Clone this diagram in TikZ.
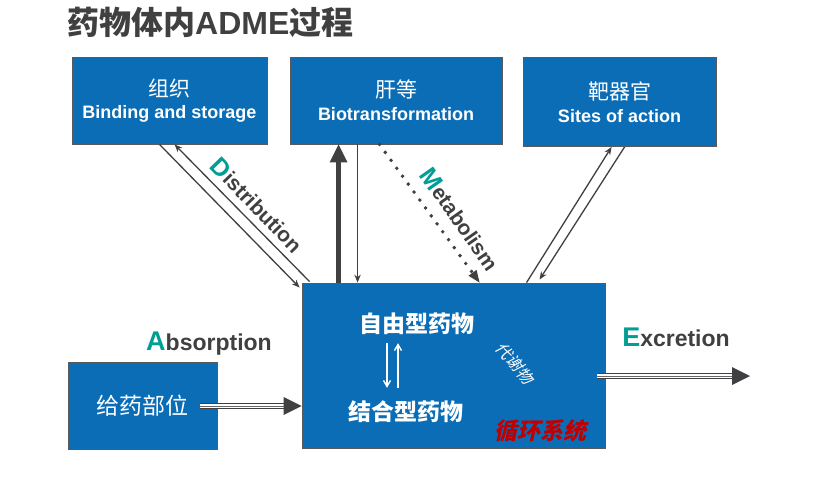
\documentclass[tikz,border=0pt]{standalone}
\usepackage{fontspec}
\setmainfont{Liberation Sans}
\newfontfamily\cjk{Noto Sans CJK SC}
\newfontfamily\cjkit[FakeSlant=0.22]{Noto Sans CJK SC}
\usetikzlibrary{arrows.meta,calc}
\definecolor{boxblue}{RGB}{10,109,182}
\definecolor{boxline}{RGB}{90,90,90}
\definecolor{arrgray}{RGB}{64,64,66}
\definecolor{titlegray}{RGB}{64,64,64}
\definecolor{tealc}{RGB}{0,158,148}
\definecolor{redc}{RGB}{192,0,0}
\tikzset{
  box/.style={draw=boxline, fill=boxblue, line width=0.9pt, inner sep=0pt, text=white, align=center},
  thinarr/.style={draw=arrgray, line width=1.3pt, -{Stealth[length=8pt,width=6.5pt,line width=0pt]}},
  thickarr/.style={draw=arrgray, line width=5pt, -{Triangle[length=18pt,width=18pt,line width=0pt]}},
  dotarr/.style={draw=arrgray, line width=3.9pt, line cap=round, dash pattern=on 0pt off 9.8pt, -{Triangle[length=12pt,width=10pt,line width=0pt]}},
  tripleline/.style={preaction={draw=arrgray, line width=5.5pt}, draw=white, line width=3.3pt, postaction={draw=arrgray!80, line width=1pt}},
  bighead/.style={draw=arrgray, line width=0.5pt, -{Triangle[length=18pt,width=18pt,line width=0pt]}},
  whitearr/.style={draw=white, line width=1.4pt, -{Straight Barb[length=6pt,width=7pt]}},
  lbl/.style={text=arrgray, font=\bfseries\fontsize{21}{24}\selectfont, inner sep=0pt},
  hlbl/.style={text=arrgray, font=\bfseries\fontsize{23}{26}\selectfont, inner sep=0pt},
  incjk/.style={text=white, inner sep=0pt, font=\cjk\bfseries\fontsize{23}{26}\selectfont}
}
\begin{document}
\begin{tikzpicture}[x=1pt,y=-1pt]
\useasboundingbox[fill=white] (0,0) rectangle (840,477);

\node[anchor=west, text=titlegray, inner sep=0pt, font=\cjk\bfseries\fontsize{32}{36}\selectfont] (title) at (67,22) {药物体内{\setmainfont{Liberation Sans}\bfseries\fontsize{32}{36}\selectfont ADME}过程};

\node[box, minimum width=195pt, minimum height=87pt] (tissue) at (169.5,100.5)
  {{\cjk\fontsize{21}{24}\selectfont 组织}\\[7pt]{\bfseries\fontsize{18}{20}\selectfont Binding and storage}};
\node[box, minimum width=212pt, minimum height=87pt] (liver) at (396,100.5)
  {{\cjk\fontsize{21}{24}\selectfont 肝等}\\[7pt]{\bfseries\fontsize{18}{20}\selectfont Biotransformation}};
\node[box, minimum width=193pt, minimum height=89pt] (target) at (619.5,102)
  {{\cjk\fontsize{21}{24}\selectfont 靶器官}\\[7pt]{\bfseries\fontsize{18}{20}\selectfont Sites of action}};
\node[box, minimum width=303pt, minimum height=165pt] (blood) at (453.5,365.5) {};
\node[box, minimum width=149pt, minimum height=87pt] (admin) at (142.5,406)
  {\cjk\fontsize{23}{26}\selectfont 给药部位};

% texts inside the blood box
\node[incjk] (free) at (416.5,324) {自由型药物};
\node[incjk] (bound) at (406,412) {结合型药物};
\node[text=white, inner sep=0pt, rotate=-50, font=\cjkit\fontsize{16}{18}\selectfont] (metab) at (515,363) {代谢物};
\node[text=redc, inner sep=0pt, font=\cjkit\bfseries\fontsize{23}{26}\selectfont] (circ) at (540,431) {循环系统};

\draw[whitearr] ($(free.south)+(-29.5,8)$) -- ($(bound.north)+(-19,-13)$);
\draw[whitearr] ($(bound.north)+(-8,-13)$) -- ($(free.south)+(-18.5,8)$);

% distribution
\draw[thinarr] ($(tissue.south west)+(88,0)$) -- ($(blood.north west)+(-2,5)$);
\draw[thinarr] ($(blood.north west)+(8,-1)$) -- ($(tissue.south west)+(103,0)$);
% liver
\draw[thickarr] ($(blood.north west)+(37,0)$) -- ($(liver.south west)+(49,0)$);
\draw[thinarr] ($(liver.south west)+(68,0)$) -- ($(blood.north west)+(56,0)$);
\draw[dotarr] ($(liver.south west)+(90,0)$) -- ($(blood.north west)+(178,0)$);
% target
\draw[thinarr] ($(blood.north west)+(225,0)$) -- ($(target.south west)+(89,0)$);
\draw[thinarr] ($(target.south west)+(102,0)$) -- ($(blood.north west)+(238,-3)$);

% absorption
\coordinate (absend) at (blood.west |- admin.east);
\draw[tripleline] ($(admin.east)+(-17,0)$) -- ($(absend)+(-16,0)$);
\draw[bighead] ($(absend)+(-18,0)$) -- (absend);
% excretion
\coordinate (exstart) at ($(blood.east)+(-8,10.5)$);
\coordinate (exend) at (750,376);
\draw[tripleline] (exstart) -- ($(exend)+(-16,0)$);
\draw[bighead] ($(exend)+(-18,0)$) -- (exend);

% labels
\node[lbl, rotate=-46] (dist) at (257,205) {\textcolor{tealc}{\fontsize{25}{28}\selectfont D}istribution};
\node[lbl, rotate=-55] (metl) at (460,219) {\textcolor{tealc}{\fontsize{25}{28}\selectfont M}etabolism};
\node[hlbl] (absl) at (209,344) {\textcolor{tealc}{\fontsize{27}{30}\selectfont A}bsorption};
\node[hlbl] (excl) at (676,337) {\textcolor{tealc}{\fontsize{27}{30}\selectfont E}xcretion};
\end{tikzpicture}
\end{document}
